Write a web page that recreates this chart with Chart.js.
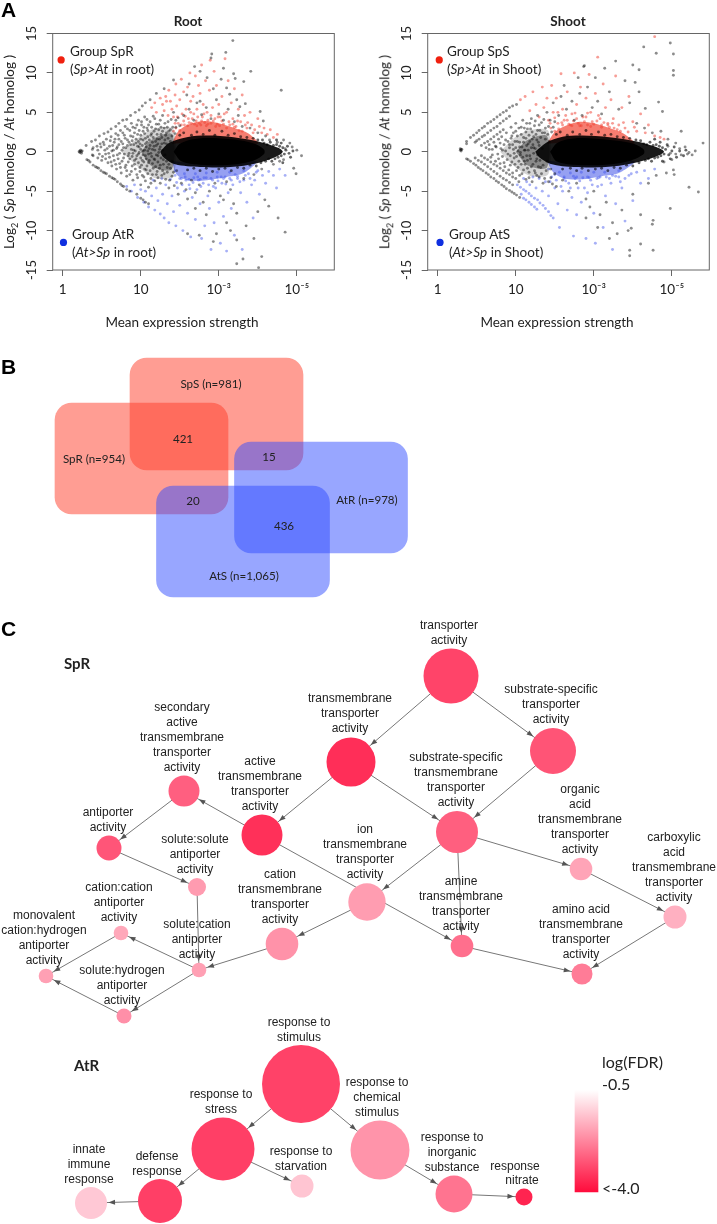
<!DOCTYPE html>
<html>
<head>
<meta charset="utf-8">
<title>Expression strength, overlaps and GO networks</title>
<script src="https://cdn.jsdelivr.net/npm/chart.js@4.4.4/dist/chart.umd.js"></script>
<style>
  html, body { margin: 0; padding: 0; background: #fff; }
  #page { position: relative; width: 717px; height: 1224px; overflow: hidden; font-family: Lato, sans-serif; color: #222; }
  canvas { position: absolute; }
  #root-plot, #shoot-plot { filter: blur(0.45px); }
  .t { position: absolute; white-space: nowrap; transform: translate(0, -50%); font-size: 13.5px; line-height: 1; }
  .c { transform: translate(-50%, -50%); }
  .b { font-weight: 700; }
  .panel { font-family: "Liberation Sans", sans-serif; font-weight: 700; font-size: 21px; color: #000; }
  .yt { transform: translate(-50%, -50%) rotate(-90deg); }
  sub { font-size: 9px; line-height: 0; }
</style>
</head>
<body>
<div id="page">
  <canvas id="root-plot" width="342" height="340" style="left:0;top:0"></canvas>
  <canvas id="shoot-plot" width="342" height="340" style="left:375px;top:0"></canvas>
  <canvas id="venn" width="717" height="280" style="left:0;top:340px"></canvas>
  <canvas id="network" width="717" height="604" style="left:0;top:620px"></canvas>

  <div class="t panel" style="left:1px;top:9px">A</div>
  <div class="t panel" style="left:1px;top:366px">B</div>
  <div class="t panel" style="left:1px;top:628px">C</div>

  <div class="t c b" style="left:188px;top:22px">Root</div>
  <div class="t c b" style="left:568px;top:22px">Shoot</div>
  <div class="t" style="left:70px;top:52px">Group SpR</div>
  <div class="t" style="left:70px;top:70px">(<i>Sp&gt;At</i> in root)</div>
  <div class="t" style="left:72px;top:235px">Group AtR</div>
  <div class="t" style="left:72px;top:253px">(<i>At&gt;Sp</i> in root)</div>
  <div class="t" style="left:447px;top:52px">Group SpS</div>
  <div class="t" style="left:447px;top:70px">(<i>Sp&gt;At</i> in Shoot)</div>
  <div class="t" style="left:449px;top:235px">Group AtS</div>
  <div class="t" style="left:449px;top:253px">(<i>At&gt;Sp</i> in Shoot)</div>
  <div class="t c" style="left:182px;top:323px">Mean expression strength</div>
  <div class="t c" style="left:557px;top:323px">Mean expression strength</div>
  <div class="t yt" style="left:10px;top:152px">Log<sub>2</sub> ( <i>Sp</i> homolog / <i>At</i> homolog )</div>
  <div class="t yt" style="left:385px;top:152px">Log<sub>2</sub> ( <i>Sp</i> homolog / <i>At</i> homolog )</div>

  <div class="t b" style="left:64px;top:663px;font-size:15px">SpR</div>
  <div class="t b" style="left:74px;top:1065px;font-size:15px">AtR</div>
  <div class="t" style="left:602px;top:1062px;font-size:16px">log(FDR)</div>
  <div class="t" style="left:602px;top:1084px;font-size:16px">-0.5</div>
  <div class="t" style="left:602px;top:1188px;font-size:16px">&lt;-4.0</div>
</div>

<script>
// Panel A: x is position along the axis in tick steps, y is log2 ratio
const xTickLabels = ['1', '10', '10⁻³', '10⁻⁵'];
const yTickValues = [-15, -10, -5, 0, 5, 10, 15];

const rootCore = [[1.42,0],[1.5,1],[1.65,1.55],[1.85,1.75],[2.2,1.55],[2.45,1.05],[2.58,.3],[2.58,-.3],[2.45,-1.1],[2.15,-1.65],[1.76,-1.65],[1.52,-1.2]];
const rootCoreOuter = [[1.25,0],[1.36,1.1],[1.59,1.85],[1.85,2.05],[2.19,1.85],[2.53,1.25],[2.76,.5],[2.82,0],[2.74,-.6],[2.49,-1.45],[2.15,-1.95],[1.76,-1.95],[1.44,-1.6],[1.29,-.7]];
const rootRedHaze = [[1.4,1],[1.48,2.6],[1.62,3.5],[1.82,3.9],[2,3.6],[2.2,3],[2.38,2.3],[2.5,1],[1.9,1.4]];
const rootBlueHaze = [[1.4,-1.2],[1.46,-2.9],[1.6,-3.6],[1.85,-3.6],[2.1,-3.2],[2.32,-2.7],[2.48,-1.2],[1.9,-1.5]];
const rootFuzz = [[1,0],[1.15,1.6],[1.4,2.2],[1.4,-2.2],[1.15,-1.9]];
const rootFuzzOuter = [[.75,0],[1,2],[1.2,3],[1.42,2.8],[1.42,-3],[1.2,-3.4],[1,-2.2]];

const rootBlack = [[.22,.1],[.22,-.1],[.23,.2],[.24,0],[.24,-.2],[.25,.1],[.21,0],[.3,.8],[.37,1.3],[.42,1.5],[.47,2],[.53,2.3],[.58,2.5],[.62,2.9],[.68,3.2],[.72,3.6],[.77,4],[.82,4.1],[.87,4.6],[.93,5],[.98,5.3],[1.02,5.8],[1.06,6.2],
[.31,-1],[.33,-1.1],[.35,-1.3],[.39,-1.7],[.42,-1.9],[.44,-2],[.46,-2.1],[.49,-2.4],[.52,-2.6],[.54,-2.7],[.56,-2.8],[.6,-3.1],[.63,-3.3],[.65,-3.4],[.67,-3.5],[.7,-3.8],[.74,-4.1],[.76,-4.3],[.78,-4.4],[.82,-4.8],[.86,-5],[.95,-5.4],[1,-5.9],[1.03,-6.1],[1.06,-6.4],[1.1,-6.6],
[.38,-.4],[.39,-.5],[.38,.3],[.39,.5],[.44,.7],[.45,-.8],[.48,1],[.5,-1.1],[.52,1.2],[.54,.2],[.55,-.3],[.56,1.6],[.58,-1.4],[.6,.7],[.6,-.7],[.62,1.9],[.63,-1.8],[.65,.2],[.66,1.2],[.66,-1.1],[.68,2.3],[.69,-2.2],[.7,.6],[.7,-.4],[.72,1.6],[.73,-1.5],[.74,2.7],[.75,-2.7],[.76,.2],[.77,1],[.78,-.8],[.79,2.1],[.8,-2],[.8,3.2],[.81,.5],[.82,-3.1],[.83,1.5],[.84,-1.3],[.85,-.2],[.86,2.7],[.87,.9],[.88,-2.5],[.88,3.6],[.89,-.6],[.9,1.9],[.9,-3.6],[.91,.2],[.92,-1.6],[.93,3],[.94,1.1],[.94,-.9],[.95,-2.9],[.96,2.2],[.97,4],[.97,-.3],[.98,.6],[.99,-2],[1,1.6],[1,-4.2],[1.01,3.4],[1.02,-1.1],[1.03,.1],[1.03,2.6],[1.04,-3.2],[1.05,4.4],[1.06,1],[1.06,-.5],[1.07,-2.3],[1.08,3],[1.09,1.9],[1.1,-1.4],[1.1,-4.5],[1.11,.4],[1.12,3.8],[1.13,-.2],[1.13,-3.4],[1.14,2.3],[1.15,1.2],[1.16,-2.1],[1.17,.7],[1.18,4.2],[1.18,-1],[1.19,2.9],[1.2,-2.9],[1.21,1.6],[1.22,-.5],[1.23,3.5],[1.24,.3],[1.25,-1.7],[1.25,-4],[1.26,2.2],[1.27,1],[1.28,4.6],[1.28,-2.4],[1.29,-1],[1.3,3],[1.31,1.5],[1.32,-3.5],[1.33,2.4],[1.34,-2],[1.35,3.8],[1.36,-4.6],[1.38,2.8],[1.4,-3.1],[1.42,5],[1.45,4],[1.48,-5.4],[1.5,3.3],[1.52,-4],[1.55,4.6],[1.58,-4.8],[1.6,-6],[1.62,5.4],[1.65,-3.6],[1.68,4],[1.7,-5.2],[1.72,6.2],[1.75,-4.2],[1.78,4.7],[1.8,-6.4],[1.84,5.6],[1.88,-5],[1.9,4.2],[1.95,-4],[2,4.8],[2.02,-5.6],[2.06,4],[2.1,-3.8],[2.12,5.4],[2.15,-4.8],[2.2,3.8],[2.25,4.6],[2.3,3.2],[2.32,-3.4],[2.4,3],[2.45,-2.9],[2.5,2.4],[2.55,-2.2],[2.6,2],[2.65,1.5],[2.7,-1.6],[2.75,1.2],[2.78,-1.2],
[2.18,14.1],[2.09,12.6],[1.9,11.9],[1.91,12.4],[2.41,10.2],[2.8,7.8],[2.32,8.9],[2.19,9.9],[2.21,9.3],[1.69,10.8],[1.76,10.2],[1.93,8],[2.23,6.6],[2.27,5.7],[2.34,6.1],[2.53,5.1],[2.57,3.9],[1.97,6.6],[1.76,6.4],[1.59,7.2],[1.42,9.1],[1.12,6.6],[1.2,7.4],[2.03,9.2],[2.1,8.1],[2.14,7.3],[2.06,10.6],[1.85,9.4],[1.62,8.6],[1.3,8],
[2.83,1.5],[2.91,1.1],[3,.2],[3.06,-.5],[2.94,.6],[2.83,-1],[2.85,.4],[2.96,-2.1],[2.99,-2.8],[2.76,-8.4],[2.85,-10.2],[2.59,-6.1],[2.64,-6.9],[2.55,-13.3],[2.51,-14.7],[2.23,-14.2],[2.31,-13.6],[2.23,-11.2],[2.15,-10],[1.93,-11.4],[1.97,-10.4],[2.19,-6.6],[2.23,-7.8],[2.06,-6.1],[1.7,-7.2],[1.84,-8],[2.1,-9],[1.75,-10.6],[1.6,-10.4],[2.45,-11],[2.35,-9.4],[2.5,-7.6]];

const rootFan = [[.45,.2],[.47,-.3],[.49,.6],[.51,-.6],[.53,.9],[.55,-.9],[.57,.4],[.59,-.2],[.61,1.4],[.62,-1.3],[.63,.1],[.64,.8],[.65,-.5],[.67,1.6],[.68,-1.6],[.69,.4],[.71,-.9],[.71,2.1],[.72,.9],[.73,-.2],[.74,-2],[.75,1.3],[.76,-1.2],[.77,2.4],[.78,.5],[.79,-.3],[.8,1.7],[.81,-1.7],[.82,-2.4],[.83,.8],[.83,2.9],[.84,-.5],[.85,1.2],[.86,-.9],[.86,-2.9],[.87,2],[.88,.3],[.89,1.4],[.89,-1.8],[.9,-.2],[.9,3.1],[.91,.9],[.92,2.4],[.92,-1.1],[.93,-2.2],[.93,.1],[.94,1.6],[.95,-.5],[.95,3.4],[.96,.7],[.96,-3.3],[.97,1.3],[.97,-1.4],[.98,2.7],[.98,-.1],[.99,-2.5],[.99,1],[1,.3],[1,-.8],[1,2.1],[1.01,-1.7],[1.01,3.8],[1.02,.8],[1.02,-3],[1.03,1.5],[1.03,-.4],[1.04,3.1],[1.04,-1.3],[1.05,.2],[1.05,2.3],[1.05,-2.2],[1.06,-3.7],[1.06,1.7],[1.07,.6],[1.07,-.9],[1.08,4.1],[1.08,-1.8],[1.08,1.2],[1.09,.1],[1.09,2.7],[1.09,-2.8],[1.1,-.3],[1.1,3.4],[1.11,1.5],[1.11,-1.1],[1.12,.8],[1.12,-2.4],[1.13,2.1],[1.13,-4],[1.14,-.6],[1.14,3.1],[1.15,.3],[1.15,-1.5],[1.15,-2.9],[1.16,1.8],[1.16,4.5],[1.17,-.9],[1.17,2.6],[1.18,.2],[1.18,-3.7],[1.19,1.3],[1.19,-1.9],[1.2,3.5],[1.2,.8],[1.2,-.4],[1.21,-2.5],[1.21,2.2],[1.22,1],[1.22,-1.3],[1.22,-3.3],[1.23,2.8],[1.23,-.1],[1.24,1.6],[1.24,-2.1],[1.25,4],[1.25,.6],[1.26,-.8],[1.26,3.1],[1.27,-3],[1.27,1.8],[1.28,.2],[1.28,2.6],[1.29,-1.6],[1.3,1.1],[1.3,-2.8],[1.31,3.6],[1.31,-.4],[1.32,2.1],[1.33,-1.2],[1.33,1],[1.34,3.1],[1.34,-2.6],[1.35,1.7],[1.36,-1.6],[1.36,2.6],[1.37,-3.6],[1.38,1.3],[1.38,-2.1],[1.39,4.1],[1.4,2],[1.4,-1.2],[1.41,3.1],[1.42,-2.6],[1.43,-4.3],[1.44,2.3],[1.45,3.1],[1.46,-2.4],[1.48,4.3]];
const rootFringe = [[1.5,2.1],[1.55,2.4],[1.6,-2.3],[1.65,2.1],[1.68,-2.1],[1.72,2.5],[1.76,-2.4],[1.8,2.2],[1.84,-2.1],[1.88,2.7],[1.92,-2.5],[1.95,2.1],[2,-2.2],[2.04,2.6],[2.08,-2.1],[2.12,2.1],[2.16,-2.4],[2.2,2.3],[2.24,-2],[2.28,1.9],[2.32,-2.1],[2.36,1.8],[2.4,-1.7],[2.44,1.7],[2.48,-1.8],[2.5,1.5],[2.54,-1.4],[2.56,1.5],[2.58,1.1],[2.6,-1.2],[2.62,.9],[2.64,-.9],[2.66,1.2],[2.68,-1.2],[2.7,.8],[2.72,-.9],[2.74,.9],[2.76,-.7],[2.78,.7],[2.8,-.5],[2.82,.5],[2.84,-.3],[2.86,.2],[2.88,.7],[2.9,-.2],[2.92,-.7],[2.95,.1],[2.8,1.1],[2.82,-1.4],[2.74,1.5]];

const rootRed = [[1.14,5.6],[1.18,6.2],[1.2,5],[1.25,6.8],[1.28,6],[1.3,5.2],[1.32,7],[1.33,6.4],[1.35,4.6],[1.36,7.8],[1.38,6.4],[1.4,5.4],[1.42,4.4],[1.44,7.2],[1.45,8.6],[1.46,5.8],[1.48,3.6],[1.5,6.6],[1.52,9.2],[1.53,4.8],[1.55,7.6],[1.56,3.4],[1.58,5.4],[1.6,8.2],[1.61,4.2],[1.63,10],[1.64,6.4],[1.65,3.6],[1.67,7],[1.68,4.8],[1.7,9.6],[1.71,3.9],[1.72,5.4],[1.74,8.4],[1.75,3.6],[1.76,7.4],[1.78,11],[1.79,4.4],[1.8,6],[1.82,3.7],[1.83,9],[1.85,5],[1.86,4],[1.88,7.8],[1.89,11.6],[1.9,3.6],[1.92,5.6],[1.94,10.2],[1.95,4.2],[1.97,8.4],[1.98,3.5],[2,6],[2.02,4.4],[2.04,7],[2.06,3.5],[2.08,11.8],[2.1,5],[2.12,9],[2.14,3.4],[2.16,6.2],[2.18,4.2],[2.2,8],[2.22,3.2],[2.25,5.4],[2.28,3.8],[2.3,7.2],[2.33,4.6],[2.36,3],[2.4,5],[2.42,3.4],[2.46,2.8],[2.5,4.2],[2.55,2.4],[2.58,3],[2.62,2.2],[2.66,2.8],[2.7,1.8],[2.75,2.2],[1.42,2.6],[1.45,3],[1.5,2.7],[1.55,3.9],[1.6,3.3],[1.66,4.2],[1.72,3.3],[1.78,3.9],[1.84,3.3],[1.9,4.6],[1.96,3.2],[2.04,3.9],[2.1,3],[2.18,3.5],[2.26,2.7],[2.34,3.4],[1.44,3.6],[1.47,4.4],[1.52,3.4],[1.57,4.5],[1.62,3.7],[1.64,5],[1.69,3.5],[1.73,4.4],[1.77,3.4],[1.81,4.8],[1.86,3.5],[1.93,3.9],[1.99,4.4],[2.01,3.3],[2.07,4.8],[2.13,3.8],[2.2,3.1],[2.24,3.9],[2.3,2.6],[2.37,3.7],[2.44,2.4],[2.52,3.2]];

const rootBlue = [[.82,-4.4],[.88,-5],[.92,-4.2],[.96,-5.8],[1,-4.8],[1.04,-6.4],[1.06,-5],[1.1,-7],[1.14,-5.6],[1.16,-3.6],[1.18,-7.4],[1.2,-4.6],[1.22,-6.2],[1.25,-7.9],[1.27,-3.4],[1.28,-5.4],[1.3,-8.4],[1.32,-4.2],[1.34,-6.6],[1.36,-9],[1.38,-3.5],[1.4,-5.6],[1.42,-7.6],[1.44,-3],[1.45,-9.4],[1.47,-4.6],[1.5,-6.8],[1.52,-3.4],[1.54,-10],[1.56,-5],[1.58,-3.6],[1.6,-7.8],[1.62,-4.2],[1.64,-10.8],[1.66,-5.8],[1.68,-3.3],[1.7,-8.6],[1.72,-4.8],[1.74,-3.6],[1.76,-6.6],[1.78,-11],[1.8,-4],[1.82,-9.4],[1.84,-3.3],[1.86,-5.6],[1.88,-7.2],[1.9,-12.4],[1.92,-3.6],[1.94,-9],[1.96,-4.6],[1.98,-3.2],[2,-6.4],[2.02,-11.6],[2.04,-4],[2.06,-8.2],[2.08,-3.2],[2.1,-12.6],[2.12,-5.2],[2.14,-3.4],[2.16,-7.2],[2.18,-4.2],[2.2,-10.6],[2.24,-3.1],[2.28,-5.2],[2.3,-12.4],[2.32,-3.6],[2.36,-6.4],[2.38,-2.8],[2.42,-4.2],[2.44,-8.4],[2.48,-2.6],[2.52,-5.4],[2.56,-3],[2.6,-4],[2.64,-2.5],[2.7,-3],[2.74,-4.6],[2.78,-2.2],[2.85,-3],[1.44,-2.4],[1.5,-3.4],[1.56,-2.8],[1.62,-3.5],[1.7,-2.8],[1.76,-3.5],[1.84,-2.7],[1.9,-3.4],[1.98,-2.6],[2.06,-3.4],[2.14,-2.6],[2.24,-3.4],[2.32,-2.4],[1.46,-3.9],[1.53,-4.2],[1.57,-3.2],[1.63,-4.7],[1.67,-3.9],[1.73,-3.2],[1.77,-4.4],[1.81,-3.3],[1.87,-4.2],[1.93,-4.4],[1.99,-3.7],[2.03,-3.2],[2.09,-4.1],[2.16,-3.6],[2.21,-2.9],[2.27,-3.8],[2.34,-3],[2.4,-3.4],[2.46,-3.6],[2.5,-2.4]];

const shootCore = [[1.44,0],[1.52,1.05],[1.65,1.55],[1.85,1.75],[2.2,1.5],[2.5,1.05],[2.64,.3],[2.64,-.3],[2.48,-1.1],[2.15,-1.65],[1.76,-1.65],[1.52,-1.2]];
const shootCoreOuter = [[1.25,0],[1.4,1.2],[1.6,1.9],[1.85,2.05],[2.2,1.85],[2.55,1.3],[2.8,.6],[2.9,0],[2.8,-.6],[2.5,-1.45],[2.15,-1.95],[1.75,-1.95],[1.45,-1.55],[1.3,-.7]];
const shootRedHaze = [[1.4,1],[1.5,2.5],[1.64,3.3],[1.82,3.8],[2,3.6],[2.2,3],[2.38,2.3],[2.52,1],[1.9,1.4]];
const shootBlueHaze = [[1.4,-1.1],[1.48,-2.6],[1.62,-3.4],[1.85,-3.5],[2.1,-3.1],[2.32,-2.7],[2.52,-1.2],[1.9,-1.5]];
const shootFuzz = [[1,0],[1.15,1.5],[1.4,2],[1.4,-2],[1.15,-1.7]];
const shootFuzzOuter = [[.8,0],[1,1.9],[1.2,2.8],[1.42,2.6],[1.42,-2.8],[1.2,-3.1],[1,-2]];

const shootBlack = [[.29,.4],[.29,.2],[.3,.3],[.3,.1],[.31,.3],[.37,1.3],[.37,1],[.42,1.8],[.46,2.1],[.5,2.4],[.53,2.7],[.57,3],[.6,3.2],[.64,3.6],[.68,3.8],[.72,4.1],[.76,4.4],[.8,4.7],[.84,5],[.88,5.2],[.92,5.6],[.96,5.8],[1.01,6],
[.48,1.2],[.5,1.4],[.53,1.6],[.57,1.9],[.6,2.1],[.64,2.4],[.68,2.7],[.72,3],[.76,3.2],[.8,3.6],[.84,3.9],[.88,4.2],[.92,4.5],
[.56,.8],[.6,1.1],[.64,1.3],[.68,1.6],[.72,1.9],[.76,2.2],[.8,2.5],[.84,2.8],
[.37,-.9],[.39,-1],[.42,-1.2],[.46,-1.5],[.49,-1.7],[.52,-2],[.55,-2.2],[.58,-2.4],[.62,-2.7],[.65,-2.9],[.68,-3.2],[.72,-3.4],[.75,-3.7],[.78,-3.9],[.82,-4.2],[.85,-4.4],[.88,-4.7],[.92,-4.9],[.95,-5.1],[.98,-5.3],[1.01,-5.5],[1.05,-5.8],
[.48,-.8],[.52,-1.1],[.56,-1.3],[.6,-1.6],[.64,-1.9],[.68,-2.2],[.72,-2.5],[.76,-2.8],[.8,-3.1],[.84,-3.4],[.88,-3.6],[.92,-3.9],[.96,-4.2],
[.56,-.5],[.6,-.8],[.64,-1],[.68,-1.3],[.72,-1.6],[.76,-1.8],[.8,-2.1],[.84,-2.4],[.88,-2.7],[.92,-2.9],[.96,-3.2],[1,-3.4],[1.04,-3.8],
[.66,.3],[.7,-.4],[.74,.7],[.78,-.9],[.8,1.1],[.83,.2],[.85,-1.4],[.87,1.5],[.9,-.3],[.92,.9],[.93,-1.7],[.95,2],[.97,.3],[.98,-.8],[1,2.6],[1.02,1.3],[1.03,-2],[1.05,.6],[1.06,-.4],[1.07,3.1],[1.08,-2.8],[1.1,1.8],[1.11,-1.2],[1.12,.2],[1.13,2.5],[1.14,3.6],[1.15,-2.1],[1.16,1],[1.17,-3.3],[1.18,-.5],[1.19,2.9],[1.2,4.2],[1.21,1.6],[1.22,-1.6],[1.23,.5],[1.24,3.3],[1.25,-2.7],[1.26,2.2],[1.27,-.9],[1.28,4.6],[1.29,1.2],[1.3,-3.2],[1.31,2.7],[1.32,-2],[1.33,3.7],[1.35,-4],[1.37,2.4],[1.4,5],[1.42,3.2],[1.45,-3.3],[1.48,6.2],[1.5,3.8],[1.52,-4.4],[1.55,4.6],[1.58,7],[1.6,-3.6],[1.62,8.4],[1.65,5.4],[1.68,-5],[1.72,6.4],[1.75,4],[1.78,-4],[1.8,9.4],[1.82,7.4],[1.85,4.6],[1.87,10.8],[1.88,10.9],[1.9,-6],[1.92,8.2],[1.95,-7],[1.98,5.6],[2,-5],[2.02,9.4],[2.05,6.4],[2.08,-8],[2.1,4.8],[2.14,10.6],[2.16,-6.4],[2.2,7.6],[2.24,-9],[2.28,11.5],[2.32,5.4],[2.36,-7.4],[2.4,9],[2.44,-10],[2.46,6.2],[2.5,-5.4],[2.55,3.6],[2.58,7.6],[2.6,-8],[2.65,3],[2.7,-4],[2.75,2.4],[2.8,-3],
[2.64,13.3],[2.98,13.8],[2.8,12.5],[2.5,11],[2.58,10.4],[3.02,12.4],[3.02,10.3],[3.02,9.7],[2.53,8.8],[2.83,6.3],[2.66,5.5],[2.88,5.1],[3.12,2.6],[2.86,2.6],[2.95,1.6],[3.05,1.1],[2.95,.7],[2.98,-.2],[3.05,-.3],[3.12,-.4],[3.2,-.3],[3.26,-.4],[3.3,.1],[3.1,.4],[3.17,.6],[3.4,1.1],[3.22,-.1],[3,-1],[2.9,-1.3],[3.02,-2.3],[2.93,-2.7],[3.03,-2.9],[3.22,-4.5],[3.34,-5.1],[2.98,-7.2],[2.76,-8.7],[2.75,-9.2],[2.48,-9.7],[2.6,-11.7],[2.76,-12.5],[2.46,-12.5],[2.46,-13.2],[2.2,-11],[2.3,-10.4],[2.05,-9.6],[1.9,-8.4]];

const shootFan = [[.62,.5],[.66,.9],[.68,-.7],[.7,.3],[.72,1.2],[.74,-1.2],[.75,.6],[.77,-.3],[.78,1.6],[.8,-1.5],[.81,.4],[.82,1.9],[.83,-.6],[.85,.9],[.86,-1.9],[.87,.1],[.88,2.4],[.89,-1],[.9,1.3],[.91,-2.3],[.92,.5],[.93,-.5],[.94,1.7],[.94,3.1],[.95,-1.3],[.96,.9],[.96,-2.7],[.97,2.4],[.98,-.2],[.99,1.3],[.99,-1.6],[1,.5],[1,3.6],[1.01,-.6],[1.01,-2.4],[1.02,2],[1.03,.1],[1.04,-1.2],[1.04,3],[1.05,1.2],[1.05,-3],[1.06,-.1],[1.07,2.2],[1.07,-1.6],[1.08,.6],[1.09,-.7],[1.09,4],[1.1,-2.3],[1.1,1.2],[1.11,.2],[1.11,3],[1.12,-1.6],[1.13,1.7],[1.13,-3.5],[1.14,-.5],[1.14,.8],[1.15,2.9],[1.15,-1.1],[1.16,.2],[1.17,2.1],[1.17,-2.6],[1.18,1.3],[1.18,3.6],[1.19,-.9],[1.2,.5],[1.2,-1.9],[1.21,2.5],[1.21,-3.8],[1.22,.9],[1.23,-.2],[1.23,1.9],[1.24,-2.4],[1.25,.4],[1.25,3.9],[1.26,-1.2],[1.27,1.5],[1.27,-3],[1.28,2.7],[1.28,-.4],[1.29,-1.9],[1.3,.8],[1.3,3.4],[1.31,-1.1],[1.32,1.8],[1.33,-2.8],[1.34,.4],[1.34,2.4],[1.35,-1.7],[1.36,4.1],[1.37,-3.4],[1.38,1.6],[1.38,3],[1.39,-2.4],[1.4,-1.2],[1.41,2.2],[1.42,-3.8],[1.43,1.3],[1.44,4],[1.45,-2.2],[1.46,2.5],[1.47,-4.1],[1.48,3.1],[1.5,-2.8]];
const shootFringe = [[1.52,2.2],[1.57,2.5],[1.6,-2.2],[1.66,2.1],[1.7,-2.1],[1.73,2.5],[1.78,-2.4],[1.82,2.2],[1.85,-2.1],[1.9,2.7],[1.93,-2.4],[1.97,2.2],[2.02,-2.2],[2.06,2.5],[2.1,-2.1],[2.14,2.1],[2.18,-2.4],[2.22,2.2],[2.26,-2],[2.3,1.9],[2.34,-2.1],[2.38,1.8],[2.42,-1.7],[2.46,1.7],[2.5,-1.8],[2.54,1.5],[2.58,-1.4],[2.6,1.4],[2.64,1],[2.66,-1.1],[2.68,.9],[2.7,-.9],[2.72,1.2],[2.74,-1.2],[2.76,.8],[2.78,-.8],[2.8,.9],[2.82,-.7],[2.84,.7],[2.86,-.5],[2.88,.5],[2.9,-.3],[2.92,.3],[2.94,.9],[2.96,-.4],[2.98,-.9],[3,.1],[2.85,1.2],[2.88,-1.2],[2.78,1.6],[3.03,.6],[3.06,-.7],[3.1,.1],[3.15,-.5],[3.18,.2]];

const shootRed = [[1.06,6.6],[1.12,7],[1.18,5.2],[1.22,7.6],[1.26,6],[1.3,4.4],[1.34,8.2],[1.36,5.6],[1.4,6.8],[1.42,4],[1.46,8.4],[1.48,5],[1.52,6.8],[1.54,3.6],[1.58,9.9],[1.6,5.4],[1.62,4],[1.66,7.6],[1.7,3.4],[1.72,4.8],[1.75,10],[1.78,6],[1.8,3.6],[1.83,8.2],[1.86,4.4],[1.9,6.8],[1.92,3.4],[1.94,9.8],[1.96,5],[1.98,3.8],[2.02,7.4],[2.05,12],[2.08,4.2],[2.1,3.4],[2.12,8.6],[2.15,5.6],[2.18,3.6],[2.22,6.6],[2.25,4.2],[2.28,9.6],[2.32,3.4],[2.36,5.6],[2.4,3],[2.45,7],[2.5,3.8],[2.55,2.6],[2.6,4.8],[2.66,2.4],[2.7,3.4],[2.78,14.6],[2.78,2],[2.85,1.8],[2.9,1.6],[1.45,3],[1.5,2.6],[1.55,2.9],[1.6,3.4],[1.66,4],[1.72,3.3],[1.78,4.2],[1.84,3.3],[1.9,4.4],[1.96,3.2],[2.04,3.9],[2.1,3.1],[2.18,3.4],[2.26,3],[2.34,2.6],[1.44,3.6],[1.5,4.3],[1.54,5],[1.59,3.7],[1.64,4.6],[1.68,3.5],[1.74,3.9],[1.76,4.9],[1.82,3.3],[1.88,3.8],[1.92,4.9],[2,3.5],[2.06,4.6],[2.13,3.7],[2.2,3.1],[2.24,3.6],[2.3,2.8],[2.38,3.7],[2.44,2.5],[2.52,3.1]];

const shootBlue = [[1.07,-5.4],[1.1,-5.9],[1.13,-6.1],[1.17,-6.4],[1.2,-6.7],[1.24,-7],[1.27,-7.3],[1.02,-4.2],[1.06,-4.5],[1.1,-4.8],[1.13,-5],[1.17,-5.3],[1.2,-5.6],[1.24,-5.9],[1.28,-6.1],[1.31,-6.5],[1.35,-6.8],[1.38,-7.2],[1.42,-7.6],[1.45,-8.1],[1.48,-8.4],[1.1,-3.4],[1.14,-3.8],[1.18,-4.2],[1.22,-3.2],[1.26,-4.6],[1.3,-3.4],[1.34,-5],[1.38,-3.8],[1.42,-5.6],[1.46,-3.2],[1.5,-4.6],[1.54,-6.6],[1.56,-9.6],[1.6,-5],[1.62,-3.4],[1.66,-7.4],[1.68,-4],[1.72,-5.8],[1.74,-10.7],[1.76,-3.4],[1.78,-8],[1.8,-4.6],[1.84,-6.4],[1.86,-3.3],[1.9,-11],[1.92,-5.2],[1.96,-3.6],[2,-7.8],[2.02,-11.6],[2.05,-4.4],[2.08,-3.2],[2.12,-9.6],[2.15,-5.6],[2.2,-3.4],[2.24,-12.4],[2.28,-6.6],[2.32,-3.2],[2.36,-4.6],[2.4,-8.8],[2.45,-3],[2.5,-6.2],[2.55,-2.6],[2.6,-4],[2.65,-2.4],[2.7,-3.4],[2.78,-2.2],[1.42,-2.2],[1.5,-2.9],[1.56,-2.6],[1.62,-3.2],[1.7,-2.7],[1.78,-3.2],[1.84,-2.6],[1.92,-3.2],[2,-2.6],[2.06,-3.3],[2.14,-2.6],[2.24,-3],[2.32,-2.4],[1.44,-3.8],[1.52,-3.6],[1.58,-4.4],[1.64,-3.7],[1.7,-4.6],[1.74,-3.1],[1.82,-3.7],[1.88,-4.6],[1.94,-3.3],[1.98,-4.2],[2.04,-3.4],[2.1,-4.2],[2.16,-3.2],[2.22,-4],[2.28,-3.1],[2.34,-3.8],[2.4,-3.4],[2.48,-2.8]];

const rootGroupDots = { red: [[-.02,11.65]], blue: [[.01,-11.5]] };
const shootGroupDots = { red: [[.02,11.65]], blue: [[.03,-11.5]] };

// Panel B: the four gene sets as rounded boxes, in page coordinates
const vennCenters = [216.5, 141.5, 321, 243];
const vennTops = [358, 403, 442, 486];
const vennBottoms = [470, 514, 553, 597];
const vennFills = ['rgba(255,60,40,.5)', 'rgba(255,60,40,.5)', 'rgba(50,77,255,.5)', 'rgba(50,77,255,.5)'];
const vennTexts = ['SpS (n=981)', '421', 'SpR (n=954)', '15', 'AtR (n=978)', '20', '436', 'AtS (n=1,065)'];
const vennTextX = [211, 183, 94, 269, 367, 193, 284, 244];
const vennTextY = [384, 439, 459, 457, 500, 501, 526, 576];

// Panel C: GO terms, in page coordinates
const nodeX = [451, 351, 553, 457, 262, 184, 109, 197, 121, 46, 199, 124, 301, 223, 380, 91, 160, 302, 454, 524, 367, 282, 462, 581, 675, 582];
const nodeY = [676, 762, 751, 832, 835, 791, 848, 887, 933, 976, 970, 1016, 1084, 1149, 1150, 1203, 1201, 1186, 1194, 1197, 902, 944, 946, 869, 917, 974];
const nodeR = [27.5, 24.5, 23, 21, 20.5, 15.5, 12.5, 9, 7.3, 7.3, 7.3, 7.5, 39, 31.5, 29.5, 16, 22, 11.5, 18.5, 8.5, 18.7, 16.3, 11.3, 11.3, 11.5, 10.5];
const nodeColors = ['#FF4469', '#FF2E58', '#FF5476', '#FF5F7F', '#FF3059', '#FF5F80', '#FF5578', '#FF9BB0', '#FFA8BA', '#FFA0B4', '#FFA0B4', '#FF8FA8', '#FF4268', '#FF3F66', '#FF94AA', '#FFC8D5', '#FF3F66', '#FFC5D2', '#FF7490', '#FF2450', '#FF9DB1', '#FF92A9', '#FF6F8D', '#FFA4B7', '#FFB0C1', '#FF7C97'];
const edges = [[0,1],[0,2],[1,4],[1,3],[2,3],[3,23],[3,20],[3,22],[4,5],[4,22],[5,6],[6,7],[7,10],[20,21],[21,10],[10,8],[10,11],[8,9],[11,9],[23,24],[24,25],[22,25],[12,13],[12,14],[13,16],[13,17],[16,15],[14,18],[18,19]];

const termLabels = [
  ['transporter', 'activity'],
  ['transmembrane', 'transporter', 'activity'],
  ['substrate-specific', 'transporter', 'activity'],
  ['substrate-specific', 'transmembrane', 'transporter', 'activity'],
  ['secondary', 'active', 'transmembrane', 'transporter', 'activity'],
  ['active', 'transmembrane', 'transporter', 'activity'],
  ['antiporter', 'activity'],
  ['solute:solute', 'antiporter', 'activity'],
  ['cation:cation', 'antiporter', 'activity'],
  ['monovalent', 'cation:hydrogen', 'antiporter', 'activity'],
  ['solute:cation', 'antiporter', 'activity'],
  ['solute:hydrogen', 'antiporter', 'activity'],
  ['cation', 'transmembrane', 'transporter', 'activity'],
  ['ion', 'transmembrane', 'transporter', 'activity'],
  ['amine', 'transmembrane', 'transporter', 'activity'],
  ['organic', 'acid', 'transmembrane', 'transporter', 'activity'],
  ['carboxylic', 'acid', 'transmembrane', 'transporter', 'activity'],
  ['amino acid', 'transmembrane', 'transporter', 'activity'],
  ['response to', 'stimulus'],
  ['response to', 'stress'],
  ['response to', 'chemical', 'stimulus'],
  ['innate', 'immune', 'response'],
  ['defense', 'response'],
  ['response to', 'starvation'],
  ['response to', 'inorganic', 'substance'],
  ['response'],
  ['nitrate'],
];
const termLabelX = [449, 350, 551, 456, 182, 260, 108, 195, 119, 44, 197, 122, 280, 365, 461, 580, 674, 581, 299, 221, 377, 89, 157, 301, 452, 515, 522];
const termLabelY = [626, 699, 690, 758, 708, 762, 813, 840, 888, 916, 925, 971, 875, 830, 882, 790, 838, 910, 1023, 1095, 1083, 1150, 1157, 1152, 1138, 1167, 1181];

const colorBarX = [586.5];
const colorBarSpan = [1090, 1192];

const pts = (list) => list.map(([x, y]) => ({ x, y }));

// y tick labels are rotated and centred like base R, which Chart.js ticks can't do
const plotFrame = {
  id: 'plotFrame',
  afterDatasetsDraw(chart) {
    const { ctx, chartArea: a, scales } = chart;
    ctx.save();
    ctx.strokeStyle = '#666';
    ctx.lineWidth = 1;
    ctx.strokeRect(a.left, a.top, a.width, a.height);
    ctx.fillStyle = '#222';
    ctx.font = '13px Lato';
    ctx.textAlign = 'center';
    ctx.textBaseline = 'middle';
    yTickValues.forEach((v) => {
      ctx.save();
      ctx.translate(a.left - 21, scales.y.getPixelForValue(v));
      ctx.rotate(-Math.PI / 2);
      ctx.fillText(String(v), 0, 0);
      ctx.restore();
    });
    ctx.restore();
  },
};

function haze(points, color, order) {
  return { data: pts([...points, points[0]]), showLine: true, pointRadius: 0, borderWidth: 0, fill: 'shape', backgroundColor: color, tension: 0.3, order };
}

function cloud(points, color, order) {
  return { data: pts(points), pointRadius: 1.45, pointBorderWidth: 0, backgroundColor: color, order };
}

function renderMaPlot(id, { core, coreOuter, redHaze, blueHaze, fuzz, fuzzOuter, black, fan, fringe, red, blue, dots }) {
  new Chart(document.getElementById(id), {
    type: 'scatter',
    data: {
      datasets: [
        haze(redHaze, 'rgba(240,45,25,.62)', 9),
        haze(blueHaze, 'rgba(45,65,230,.5)', 9),
        cloud(red, 'rgba(240,60,45,.5)', 8),
        cloud(blue, 'rgba(60,80,235,.45)', 8),
        haze(fuzzOuter, 'rgba(0,0,0,.17)', 7),
        haze(fuzz, 'rgba(0,0,0,.35)', 7),
        cloud(black, 'rgba(0,0,0,.45)', 6),
        cloud(fan, 'rgba(0,0,0,.45)', 6),
        cloud(fringe, 'rgba(0,0,0,.6)', 6),
        haze(coreOuter, 'rgba(0,0,0,.9)', 5),
        haze(core, '#000', 4),
        { data: pts(dots.red), pointRadius: 3.6, pointBorderWidth: 0, backgroundColor: '#F0200F', order: 1 },
        { data: pts(dots.blue), pointRadius: 3.6, pointBorderWidth: 0, backgroundColor: '#0F2FE0', order: 1 },
      ],
    },
    options: {
      responsive: false,
      animation: false,
      devicePixelRatio: 1,
      events: [],
      layout: { padding: { top: 33.5, right: 7.7, left: 0, bottom: 0 } },
      plugins: { legend: { display: false }, tooltip: { enabled: false } },
      scales: {
        x: {
          type: 'linear',
          min: -0.128,
          max: 3.48,
          border: { display: false },
          grid: { drawOnChartArea: false, drawTicks: true, tickLength: 6, color: '#666' },
          ticks: { color: '#222', font: { family: 'Lato', size: 13.5 }, padding: 6, maxRotation: 0, autoSkip: false, callback: (v) => xTickLabels[v] },
          afterBuildTicks: (s) => { s.ticks = xTickLabels.map((_, i) => ({ value: i })); },
          afterFit: (s) => { s.height = 70; },
        },
        y: {
          min: -15,
          max: 15,
          border: { display: false },
          grid: { drawOnChartArea: false, drawTicks: true, tickLength: 6, color: '#666' },
          ticks: { display: false },
          afterBuildTicks: (s) => { s.ticks = yTickValues.map((value) => ({ value })); },
          afterFit: (s) => { s.width = 52.7; },
        },
      },
    },
    plugins: [plotFrame],
  });
}

// hidden axes that run in page pixels, no offset and no bubble auto padding
function pageScales(xMin, xMax, yMin, yMax) {
  return {
    x: { type: 'linear', display: false, offset: false, min: xMin, max: xMax },
    y: { type: 'linear', display: false, offset: false, min: yMin, max: yMax, reverse: true },
  };
}

function drawLabelLines(chart, lines, x, y, font, color, lineHeight) {
  const { ctx, scales } = chart;
  ctx.save();
  ctx.font = font;
  ctx.fillStyle = color;
  ctx.textAlign = 'center';
  ctx.textBaseline = 'middle';
  lines.forEach((line, i) => {
    ctx.fillText(line, scales.x.getPixelForValue(x), scales.y.getPixelForValue(y) + i * lineHeight);
  });
  ctx.restore();
}

function renderVenn() {
  const vennText = {
    id: 'vennText',
    afterDatasetsDraw(chart) {
      vennTexts.forEach((t, i) => drawLabelLines(chart, [t], vennTextX[i], vennTextY[i], '11.6px Lato', '#222', 0));
    },
  };
  new Chart(document.getElementById('venn'), {
    type: 'bar',
    data: {
      datasets: vennCenters.map((x, i) => ({
        data: [{ x, y: [vennTops[i], vennBottoms[i]] }],
        backgroundColor: vennFills[i],
        barThickness: 173,
        borderRadius: 17,
        borderSkipped: false,
        grouped: false,
        order: vennCenters.length - i,
      })),
    },
    options: {
      responsive: false,
      animation: false,
      devicePixelRatio: 1,
      events: [],
      layout: { padding: 0, autoPadding: false },
      plugins: { legend: { display: false }, tooltip: { enabled: false } },
      scales: pageScales(0, 717, 340, 620),
    },
    plugins: [vennText],
  });
}

function renderNetwork() {
  const canvas = document.getElementById('network');
  const gradient = canvas.getContext('2d').createLinearGradient(0, colorBarSpan[0] - 620, 0, colorBarSpan[1] - 620);
  gradient.addColorStop(0, '#FFFFFF');
  gradient.addColorStop(1, '#FF0C3C');

  const arrowsAndLabels = {
    id: 'arrowsAndLabels',
    afterDatasetsDraw(chart) {
      const { ctx, scales } = chart;
      ctx.save();
      ctx.fillStyle = '#555';
      edges.forEach(([a, b]) => {
        const sx = scales.x.getPixelForValue(nodeX[a]);
        const sy = scales.y.getPixelForValue(nodeY[a]);
        const tx = scales.x.getPixelForValue(nodeX[b]);
        const ty = scales.y.getPixelForValue(nodeY[b]);
        const ang = Math.atan2(ty - sy, tx - sx);
        const tipX = tx - Math.cos(ang) * (nodeR[b] + 1.5);
        const tipY = ty - Math.sin(ang) * (nodeR[b] + 1.5);
        ctx.beginPath();
        ctx.moveTo(tipX, tipY);
        ctx.lineTo(tipX - 7 * Math.cos(ang - 0.36), tipY - 7 * Math.sin(ang - 0.36));
        ctx.lineTo(tipX - 7 * Math.cos(ang + 0.36), tipY - 7 * Math.sin(ang + 0.36));
        ctx.closePath();
        ctx.fill();
      });
      ctx.restore();
      termLabels.forEach((lines, i) => drawLabelLines(chart, lines, termLabelX[i], termLabelY[i], '12px "Liberation Sans"', '#222', 15));
    },
  };

  new Chart(canvas, {
    type: 'bubble',
    data: {
      datasets: [
        ...edges.map(([a, b]) => ({
          type: 'line',
          data: [{ x: nodeX[a], y: nodeY[a] }, { x: nodeX[b], y: nodeY[b] }],
          borderColor: '#777',
          borderWidth: 1,
          pointRadius: 0,
          order: 5,
        })),
        {
          data: nodeX.map((x, i) => ({ x, y: nodeY[i], r: nodeR[i] })),
          backgroundColor: nodeColors,
          borderWidth: 0,
          order: 1,
        },
        {
          type: 'bar',
          data: [{ x: colorBarX[0], y: colorBarSpan }],
          backgroundColor: gradient,
          barThickness: 23,
          borderWidth: 0,
          order: 2,
        },
      ],
    },
    options: {
      responsive: false,
      animation: false,
      devicePixelRatio: 1,
      events: [],
      layout: { padding: 0, autoPadding: false },
      plugins: { legend: { display: false }, tooltip: { enabled: false } },
      scales: pageScales(0, 717, 620, 1224),
    },
    plugins: [arrowsAndLabels],
  });
}

renderMaPlot('root-plot', { core: rootCore, coreOuter: rootCoreOuter, redHaze: rootRedHaze, blueHaze: rootBlueHaze, fuzz: rootFuzz, fuzzOuter: rootFuzzOuter, black: rootBlack, fan: rootFan, fringe: rootFringe, red: rootRed, blue: rootBlue, dots: rootGroupDots });
renderMaPlot('shoot-plot', { core: shootCore, coreOuter: shootCoreOuter, redHaze: shootRedHaze, blueHaze: shootBlueHaze, fuzz: shootFuzz, fuzzOuter: shootFuzzOuter, black: shootBlack, fan: shootFan, fringe: shootFringe, red: shootRed, blue: shootBlue, dots: shootGroupDots });
renderVenn();
renderNetwork();
</script>
</body>
</html>
